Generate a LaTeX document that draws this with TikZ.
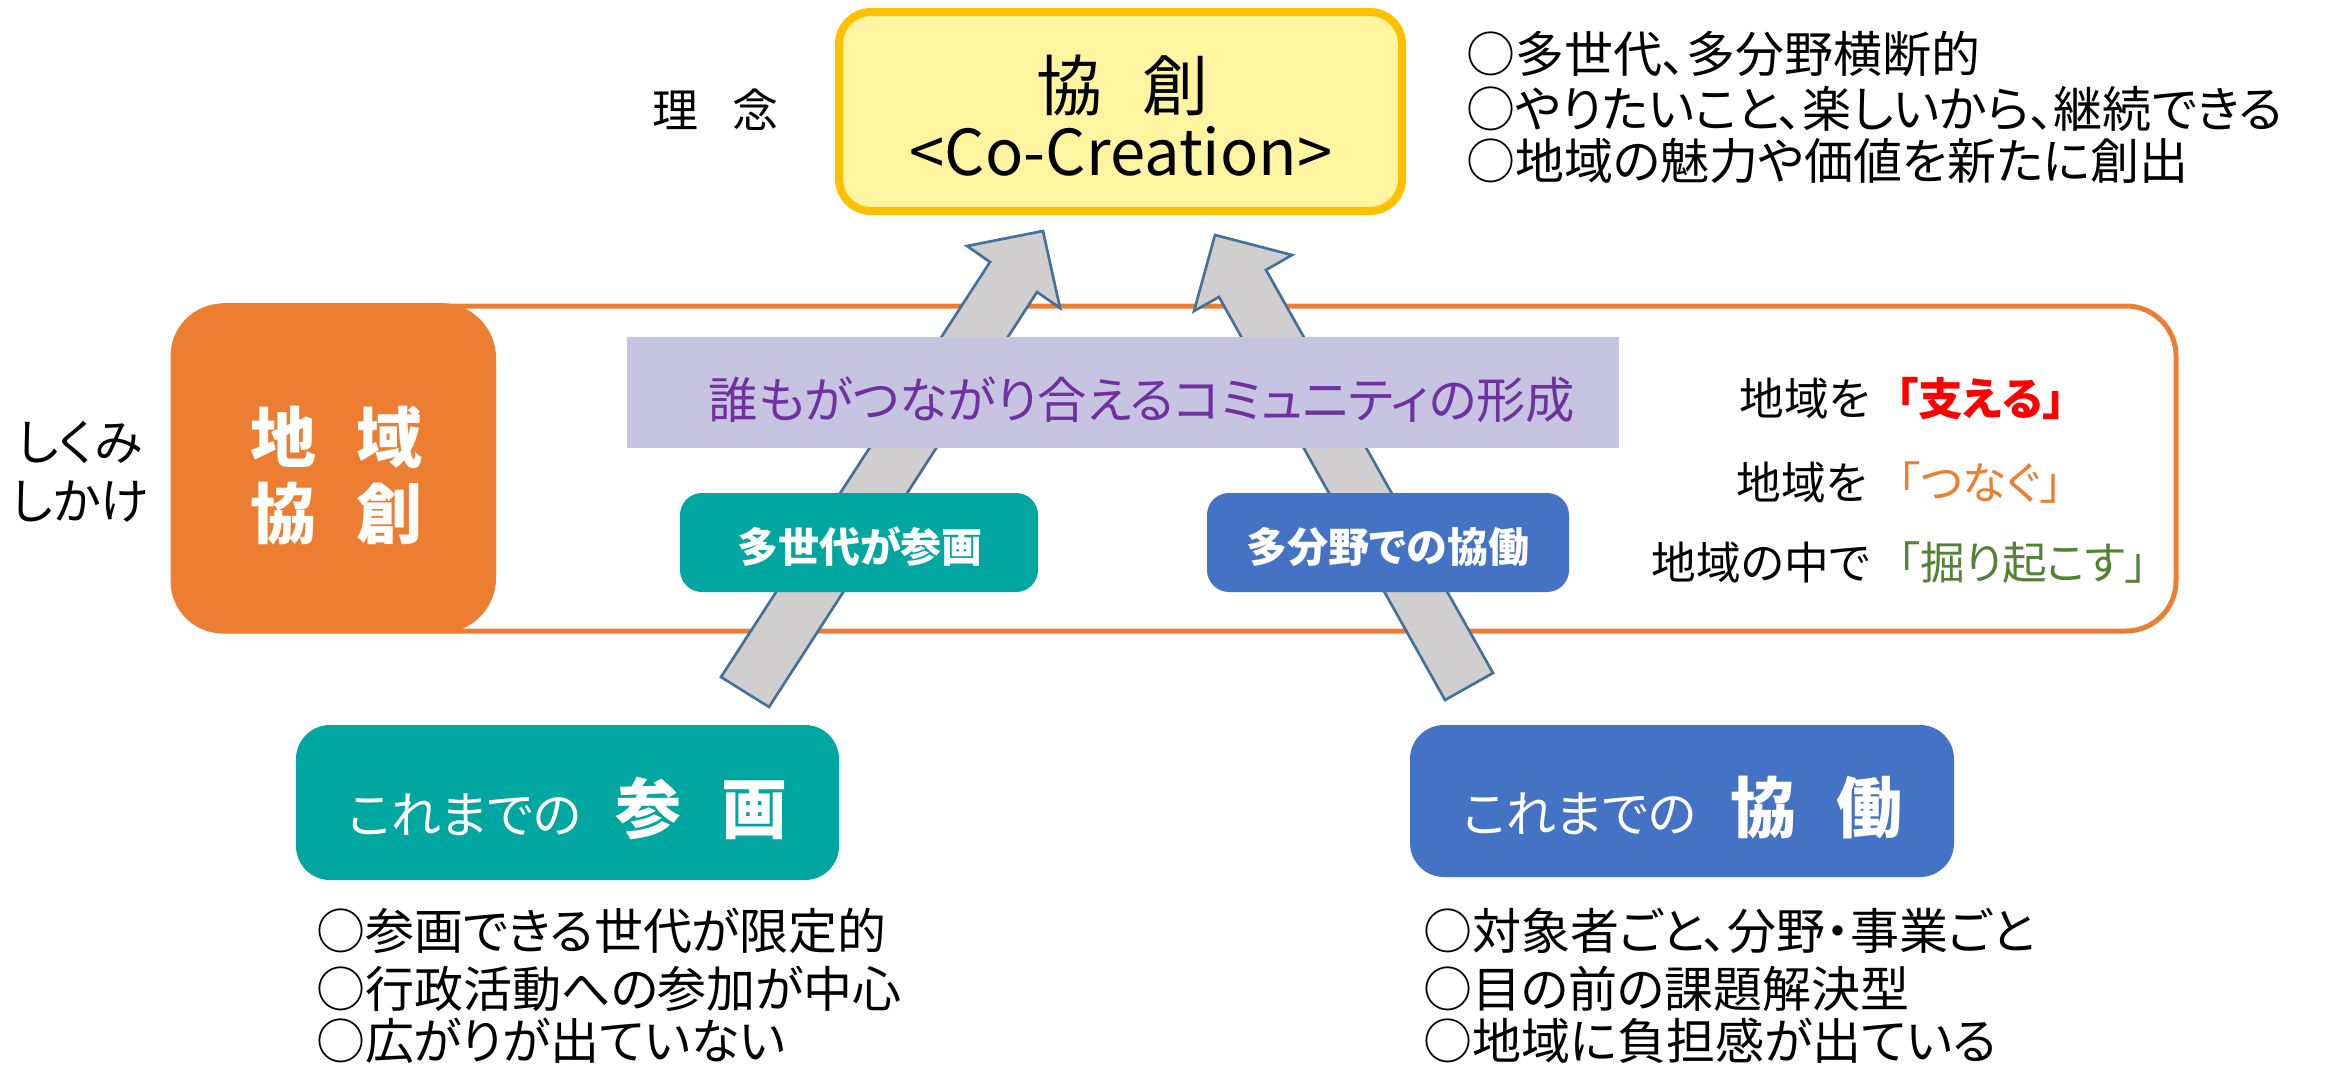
\documentclass[tikz,border=0pt]{standalone}
\usepackage{fontspec}
\setmainfont{Noto Sans CJK JP}[RawFeature=+palt]
\definecolor{gold}{HTML}{FFC000}
\definecolor{paleyellow}{HTML}{FFF5A0}
\definecolor{orangeA}{HTML}{ED7D31}
\definecolor{lavender}{HTML}{C7C4E1}
\definecolor{purpleT}{HTML}{7030A0}
\definecolor{tealA}{HTML}{00A6A0}
\definecolor{blueA}{HTML}{4472C4}
\definecolor{arrowfill}{HTML}{D0CECE}
\definecolor{arrowline}{HTML}{41719C}
\definecolor{greenT}{HTML}{548235}
\definecolor{redT}{HTML}{FF0000}
\tikzset{
  txt/.style={inner sep=0pt, outer sep=0pt},
  boxshape/.style={inner sep=0pt, outer sep=0pt, rectangle},
  blockarrow/.style={fill=arrowfill, draw=arrowline, line width=0.8pt, line join=miter},
  bodyfont/.style={font=\fontsize{14.7pt}{17pt}\selectfont},
  rightfont/.style={font=\fontsize{13.4pt}{16pt}\selectfont},
  rightbold/.style={font=\fontsize{13.4pt}{16pt}\selectfont\bfseries},
  bigkanji/.style={font=\fontsize{19.8pt}{24pt}\selectfont},
  bigkanjibold/.style={font=\fontsize{19.8pt}{24pt}\selectfont\bfseries},
}
\begin{document}
\begin{tikzpicture}[x=0.3pt,y=-0.3pt]
\fill[white] (0,0) rectangle (2333,1066);
\useasboundingbox (0,0) rectangle (2333,1066);

% outer orange band
\node[boxshape, draw=orangeA, line width=1.5pt, rounded corners=15pt,
      minimum width=600.9pt, minimum height=97.5pt] (band) at (1174.5,468.5) {};

% block arrows
\coordinate (la1) at (721,677);
\coordinate (la2) at (990,262);
\coordinate (la3) at (967,246);
\coordinate (la4) at (1043,231);
\coordinate (la5) at (1060,308);
\coordinate (la6) at (1037,292);
\coordinate (la7) at (769,707);
\path[blockarrow] (la1) -- (la2) -- (la3) -- (la4) -- (la5) -- (la6) -- (la7) -- cycle;
\coordinate (ra1) at (1493,673);
\coordinate (ra2) at (1266,270);
\coordinate (ra3) at (1292,255);
\coordinate (ra4) at (1215,235);
\coordinate (ra5) at (1194,311);
\coordinate (ra6) at (1219,297);
\coordinate (ra7) at (1445,700);
\path[blockarrow] (ra1) -- (ra2) -- (ra3) -- (ra4) -- (ra5) -- (ra6) -- (ra7) -- cycle;

% boxes
\node[boxshape, fill=paleyellow, draw=gold, line width=2.4pt, rounded corners=9.6pt,
      minimum width=168.9pt, minimum height=59.7pt] (ideal) at (1120.5,111.5) {};
\node[boxshape, fill=orangeA, rounded corners=16.5pt,
      minimum width=96.9pt, minimum height=99pt] (chiiki) at (334.5,468) {};
\node[boxshape, fill=lavender, minimum width=297.6pt, minimum height=33.3pt] (community) at (1123,392.5) {};
\node[boxshape, fill=tealA, rounded corners=6.6pt,
      minimum width=107.4pt, minimum height=29.7pt] (tasedai) at (859,542.5) {};
\node[boxshape, fill=blueA, rounded corners=6.6pt,
      minimum width=108.6pt, minimum height=29.7pt] (tabunya) at (1388,542.5) {};
\node[boxshape, fill=tealA, rounded corners=10.2pt,
      minimum width=162.9pt, minimum height=46.5pt] (sankaku) at (567.5,802.5) {};
\node[boxshape, fill=blueA, rounded corners=10.2pt,
      minimum width=163.2pt, minimum height=45.6pt] (kyodo) at (1682,801) {};

% texts
\node[txt, anchor=base, font=\fontsize{13.8pt}{16pt}\selectfont] (rinen) at (715,127) {理\hspace{10.2pt}念};
\node[txt, anchor=base, bigkanji] (kyoso) at (1122,110) {協\hspace{12pt}創};
\node[txt, anchor=base, font=\fontsize{19pt}{22pt}\selectfont] (cocreation) at (1121,175) {<Co-Creation>};

\node[txt, anchor=base west, bodyfont] (tr1) at (1466,72) {○多世代、多分野横断的};
\node[txt, anchor=base west, bodyfont] (tr2) at (1466,127) {○やりたいこと、楽しいから、継続できる};
\node[txt, anchor=base west, bodyfont] (tr3) at (1466,179) {○地域の魅力や価値を新たに創出};

\node[txt, anchor=base, bodyfont] (shikumi) at (80,460) {しくみ};
\node[txt, anchor=base, bodyfont] (shikake) at (80,519) {しかけ};

\node[txt, anchor=base, bigkanjibold, text=white] (chiiki1) at (336,462) {地\hspace{12pt}域};
\node[txt, anchor=base, bigkanjibold, text=white] (chiiki2) at (336,538) {協\hspace{12pt}創};

\node[txt, anchor=base, text=purpleT, font=\fontsize{14.8pt}{18pt}\selectfont] (commtext) at (1142,418) {誰もがつながり合えるコミュニティの形成};

\node[txt, anchor=base, text=white, font=\fontsize{12.3pt}{15pt}\selectfont\bfseries] (tasedaitext) at (860,562) {多世代が参画};
\node[txt, anchor=base, text=white, font=\fontsize{12.3pt}{15pt}\selectfont\bfseries] (tabunyatext) at (1388,562) {多分野での協働};

\node[txt, anchor=base, text=white] (sankakutext) at (567.5,833)
  {{\fontsize{15pt}{18pt}\selectfont これまでの}\hspace{10pt}{\fontsize{19.8pt}{24pt}\selectfont\bfseries 参\hspace{12pt}画}};
\node[txt, anchor=base, text=white] (kyodotext) at (1682.5,832)
  {{\fontsize{15pt}{18pt}\selectfont これまでの}\hspace{10pt}{\fontsize{19.8pt}{24pt}\selectfont\bfseries 協\hspace{12pt}働}};

\node[txt, anchor=base east, rightfont] (s1a) at (1870,415) {地域を};
\node[txt, anchor=base west, rightbold, text=redT] (s1b) at (1896,415) {「支える」};
\node[txt, anchor=base east, rightfont] (s2a) at (1867,499) {地域を};
\node[txt, anchor=base west, rightfont, text=orangeA] (s2b) at (1898,499) {「つなぐ」};
\node[txt, anchor=base east, rightfont] (s3a) at (1870,579) {地域の中で};
\node[txt, anchor=base west, rightfont, text=greenT] (s3b) at (1898,579) {「掘り起こす」};

\node[txt, anchor=base west, bodyfont] (bl1) at (316,949) {○参画できる世代が限定的};
\node[txt, anchor=base west, bodyfont] (bl2) at (316,1007) {○行政活動への参加が中心};
\node[txt, anchor=base west, bodyfont] (bl3) at (316,1059) {○広がりが出ていない};

\node[txt, anchor=base west, bodyfont] (br1) at (1423,949) {○対象者ごと、分野・事業ごと};
\node[txt, anchor=base west, bodyfont] (br2) at (1423,1007) {○目の前の課題解決型};
\node[txt, anchor=base west, bodyfont] (br3) at (1423,1059) {○地域に負担感が出ている};
\end{tikzpicture}
\end{document}
